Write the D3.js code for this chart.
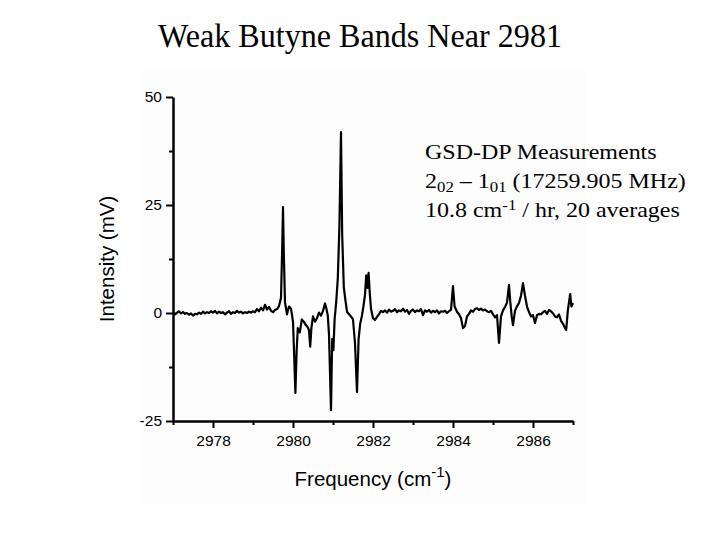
<!DOCTYPE html>
<html>
<head>
<meta charset="utf-8">
<script src="https://cdn.jsdelivr.net/npm/d3@7"></script>
<style>
  html, body { margin: 0; padding: 0; background: #ffffff; }
  svg { display: block; }
</style>
</head>
<body>
<div id="chart"></div>
<script>
// trace: frequency (cm-1) and intensity (mV)
const freq = [
  2977.00, 2977.05, 2977.10, 2977.15, 2977.20, 2977.25, 2977.30, 2977.35, 2977.40, 2977.45,
  2977.50, 2977.55, 2977.60, 2977.65, 2977.70, 2977.75, 2977.80, 2977.85, 2977.90, 2977.95,
  2978.00, 2978.05, 2978.10, 2978.15, 2978.20, 2978.25, 2978.30, 2978.35, 2978.40, 2978.45,
  2978.50, 2978.55, 2978.60, 2978.65, 2978.70, 2978.75, 2978.80, 2978.85, 2978.90, 2978.95,
  2979.00, 2979.05, 2979.10, 2979.15, 2979.20, 2979.25, 2979.30, 2979.35, 2979.40, 2979.45,
  2979.50, 2979.55, 2979.60, 2979.65, 2979.70, 2979.73, 2979.75, 2979.77, 2979.80, 2979.85,
  2979.90, 2979.95, 2980.00, 2980.03, 2980.06, 2980.09, 2980.12, 2980.17, 2980.22, 2980.27,
  2980.32, 2980.37, 2980.40, 2980.43, 2980.46, 2980.50, 2980.55, 2980.60, 2980.65, 2980.70,
  2980.75, 2980.80, 2980.83, 2980.87, 2980.90, 2980.95, 2980.98, 2981.01, 2981.04, 2981.08,
  2981.12, 2981.16, 2981.20, 2981.23, 2981.27, 2981.31, 2981.35, 2981.40, 2981.45, 2981.50,
  2981.55, 2981.60, 2981.64, 2981.68, 2981.72, 2981.76, 2981.80, 2981.83, 2981.86, 2981.89,
  2981.92, 2981.95, 2982.00, 2982.05, 2982.10, 2982.15, 2982.20, 2982.25, 2982.30, 2982.35,
  2982.40, 2982.45, 2982.50, 2982.55, 2982.60, 2982.65, 2982.70, 2982.75, 2982.80, 2982.85,
  2982.90, 2982.95, 2983.00, 2983.05, 2983.10, 2983.15, 2983.20, 2983.25, 2983.30, 2983.35,
  2983.40, 2983.45, 2983.50, 2983.55, 2983.60, 2983.65, 2983.70, 2983.75, 2983.80, 2983.85,
  2983.90, 2983.95, 2984.00, 2984.04, 2984.10, 2984.15, 2984.20, 2984.25, 2984.30, 2984.35,
  2984.40, 2984.45, 2984.50, 2984.55, 2984.60, 2984.65, 2984.70, 2984.75, 2984.80, 2984.85,
  2984.90, 2984.95, 2985.00, 2985.05, 2985.10, 2985.15, 2985.20, 2985.25, 2985.30, 2985.35,
  2985.40, 2985.43, 2985.47, 2985.50, 2985.55, 2985.60, 2985.65, 2985.70, 2985.75, 2985.80,
  2985.85, 2985.90, 2985.95, 2986.00, 2986.05, 2986.10, 2986.15, 2986.20, 2986.25, 2986.30,
  2986.35, 2986.40, 2986.45, 2986.50, 2986.55, 2986.60, 2986.65, 2986.70, 2986.75, 2986.80,
  2986.83, 2986.87, 2986.90, 2986.93, 2986.96, 2987.00
];
const intensity = [
  0.2, -0.3, 0.1, 0.4, -0.1, 0.2, -0.2, 0.0, -0.4, -0.1,
  -0.6, -0.2, -0.3, 0.1, -0.2, 0.3, -0.1, 0.2, 0.0, 0.4,
  0.1, 0.5, -0.1, 0.3, 0.0, 0.2, -0.3, 0.1, 0.4, -0.2,
  0.2, 0.0, 0.5, 0.1, 0.3, -0.1, 0.2, 0.0, 0.3, 0.1,
  0.4, 0.2, 0.9, 0.4, 1.2, 0.6, 1.9, 0.8, 1.4, 0.5,
  0.2, 0.7, 0.9, 1.6, 3.5, 15.0, 24.5, 14.0, 2.5, -0.3,
  1.5, 1.0, -2.0, -10.0, -18.5, -9.0, -3.5, -4.5, -1.5, -2.0,
  -2.8, -3.3, -4.0, -7.8, -3.5, -0.8, -2.0, -1.2, 0.1, -0.6,
  0.5, 2.2, 1.2, -0.6, -5.0, -22.5, -6.0, -8.6, -1.5, 2.5,
  8.0, 20.0, 41.9, 18.0, 6.0, 3.0, 0.3, -0.3, -0.8, -1.5,
  -7.0, -18.3, -6.0, -2.5, -0.8, 1.5, 4.2, 8.7, 5.8, 9.3,
  4.5, 1.0, -1.2, -1.6, -0.9, -0.3, 0.5, 0.2, 0.6, 0.1,
  0.8, 0.3, 0.5, 0.9, 0.2, 0.6, 0.4, 1.0, 0.3, 0.7,
  -0.2, 0.5, 0.8, 0.2, 0.6, 0.4, 0.9, -0.5, 0.6, 0.3,
  0.7, 0.1, 0.5, 0.2, 0.6, -0.1, 0.4, 0.3, 0.5, 0.0,
  0.4, 0.8, 6.2, 1.5, 0.3, -0.3, -1.2, -3.5, -3.0, -0.8,
  -0.2, 0.6, 0.3, 0.9, 1.1, 0.7, 1.0, 0.6, 0.8, 0.4,
  0.2, 0.5, -0.3, -1.0, -0.5, -6.9, -0.8, 0.6, 1.4, 2.4,
  6.5, 2.8, -1.0, -2.8, 0.5, 1.6, 2.3, 4.0, 6.9, 4.0,
  1.5, 0.2, -0.8, -0.5, -2.3, -0.5, -0.2, -0.3, 0.2, 0.5,
  -0.2, 0.7, 0.4, -0.1, -0.8, -1.0, -0.3, -1.8, -2.5, -3.5,
  -3.9, 0.5, 2.5, 4.4, 1.5, 2.3
];
const xTicks = [2978, 2980, 2982, 2984, 2986];
const xMinorTicks = [2977, 2979, 2981, 2983, 2985, 2987];
const yTicks = [-25, 0, 25, 50];
const yMinorTicks = [-12.5, 12.5, 37.5];

const width = 720;
const height = 540;
const margin = { top: 97, right: 147, bottom: 119, left: 173 };
const plotW = width - margin.left - margin.right;
const plotH = height - margin.top - margin.bottom;

const svg = d3.select('#chart').append('svg')
    .attr('width', width)
    .attr('height', height);

// faint pasted-figure background
svg.append('rect')
    .attr('x', 140).attr('y', 70)
    .attr('width', 447).attr('height', 435)
    .attr('fill', '#fdfdfd');

svg.append('text')
    .attr('x', 158)
    .attr('y', 47)
    .attr('textLength', 404)
    .attr('lengthAdjust', 'spacingAndGlyphs')
    .attr('font-family', '"Liberation Serif", "Times New Roman", serif')
    .attr('font-size', 33)
    .attr('fill', '#000')
    .text('Weak Butyne Bands Near 2981');

const g = svg.append('g')
    .attr('transform', `translate(${margin.left},${margin.top})`);

const x = d3.scaleLinear().domain([2977, 2987]).range([0, plotW]);
const y = d3.scaleLinear().domain([-25, 50]).range([plotH, 0]);

const axisFont = '"Liberation Sans", Arial, sans-serif';

// minor ticks
g.append('g')
    .attr('transform', `translate(0,${plotH})`)
    .call(d3.axisBottom(x).tickValues(xMinorTicks).tickSize(4).tickFormat(''))
    .call((a) => a.select('.domain').remove());
g.append('g')
    .call(d3.axisLeft(y).tickValues(yMinorTicks).tickSize(4).tickFormat(''))
    .call((a) => a.select('.domain').remove());

const xAxis = g.append('g')
    .attr('transform', `translate(0,${plotH})`)
    .call(d3.axisBottom(x).tickValues(xTicks).tickSize(7).tickSizeOuter(0).tickPadding(7).tickFormat((d) => String(d)));
const yAxis = g.append('g')
    .call(d3.axisLeft(y).tickValues(yTicks).tickSize(7).tickSizeOuter(0).tickPadding(4).tickFormat((d) => String(d)));

g.selectAll('.tick line').attr('stroke', '#000').attr('stroke-width', 2);
[xAxis, yAxis].forEach((a) => {
    a.select('.domain').attr('stroke', '#000').attr('stroke-width', 2.5);
    a.selectAll('text')
        .attr('font-family', axisFont)
        .attr('font-size', 15.5)
        .attr('fill', '#000');
});

const line = d3.line()
    .x((d, i) => x(freq[i]))
    .y((d, i) => y(intensity[i]));

g.append('path')
    .datum(intensity)
    .attr('fill', 'none')
    .attr('stroke', '#000')
    .attr('stroke-width', 2.2)
    .attr('stroke-linejoin', 'round')
    .attr('d', line);

// axis titles
svg.append('text')
    .attr('transform', 'translate(114,259) rotate(-90)')
    .attr('text-anchor', 'middle')
    .attr('font-family', axisFont)
    .attr('font-size', 20.5)
    .attr('fill', '#000')
    .text('Intensity (mV)');

const xt = svg.append('text')
    .attr('x', 373)
    .attr('y', 486)
    .attr('text-anchor', 'middle')
    .attr('font-family', axisFont)
    .attr('font-size', 20.5)
    .attr('fill', '#000');
xt.append('tspan').text('Frequency (cm');
xt.append('tspan').attr('dy', -9).attr('font-size', 15).text('-1');
xt.append('tspan').attr('dy', 9).text(')');

// annotation (the original text is stretched horizontally)
const note = svg.append('g')
    .attr('transform', 'translate(425,0) scale(1.2,1)')
    .attr('font-family', '"Liberation Serif", "Times New Roman", serif')
    .attr('font-size', 20)
    .attr('fill', '#000');
note.append('text').attr('x', 0).attr('y', 159).text('GSD-DP Measurements');
const l2 = note.append('text').attr('x', 0).attr('y', 188);
l2.append('tspan').text('2');
l2.append('tspan').attr('dy', 4).attr('font-size', 14).text('02');
l2.append('tspan').attr('dy', -4).text(' \u2013 1');
l2.append('tspan').attr('dy', 4).attr('font-size', 14).text('01');
l2.append('tspan').attr('dy', -4).text(' (17259.905 MHz)');
const l3 = note.append('text').attr('x', 0).attr('y', 217);
l3.append('tspan').text('10.8 cm');
l3.append('tspan').attr('dy', -7).attr('font-size', 14).text('-1');
l3.append('tspan').attr('dy', 7).text(' / hr, 20 averages');
</script>
</body>
</html>
